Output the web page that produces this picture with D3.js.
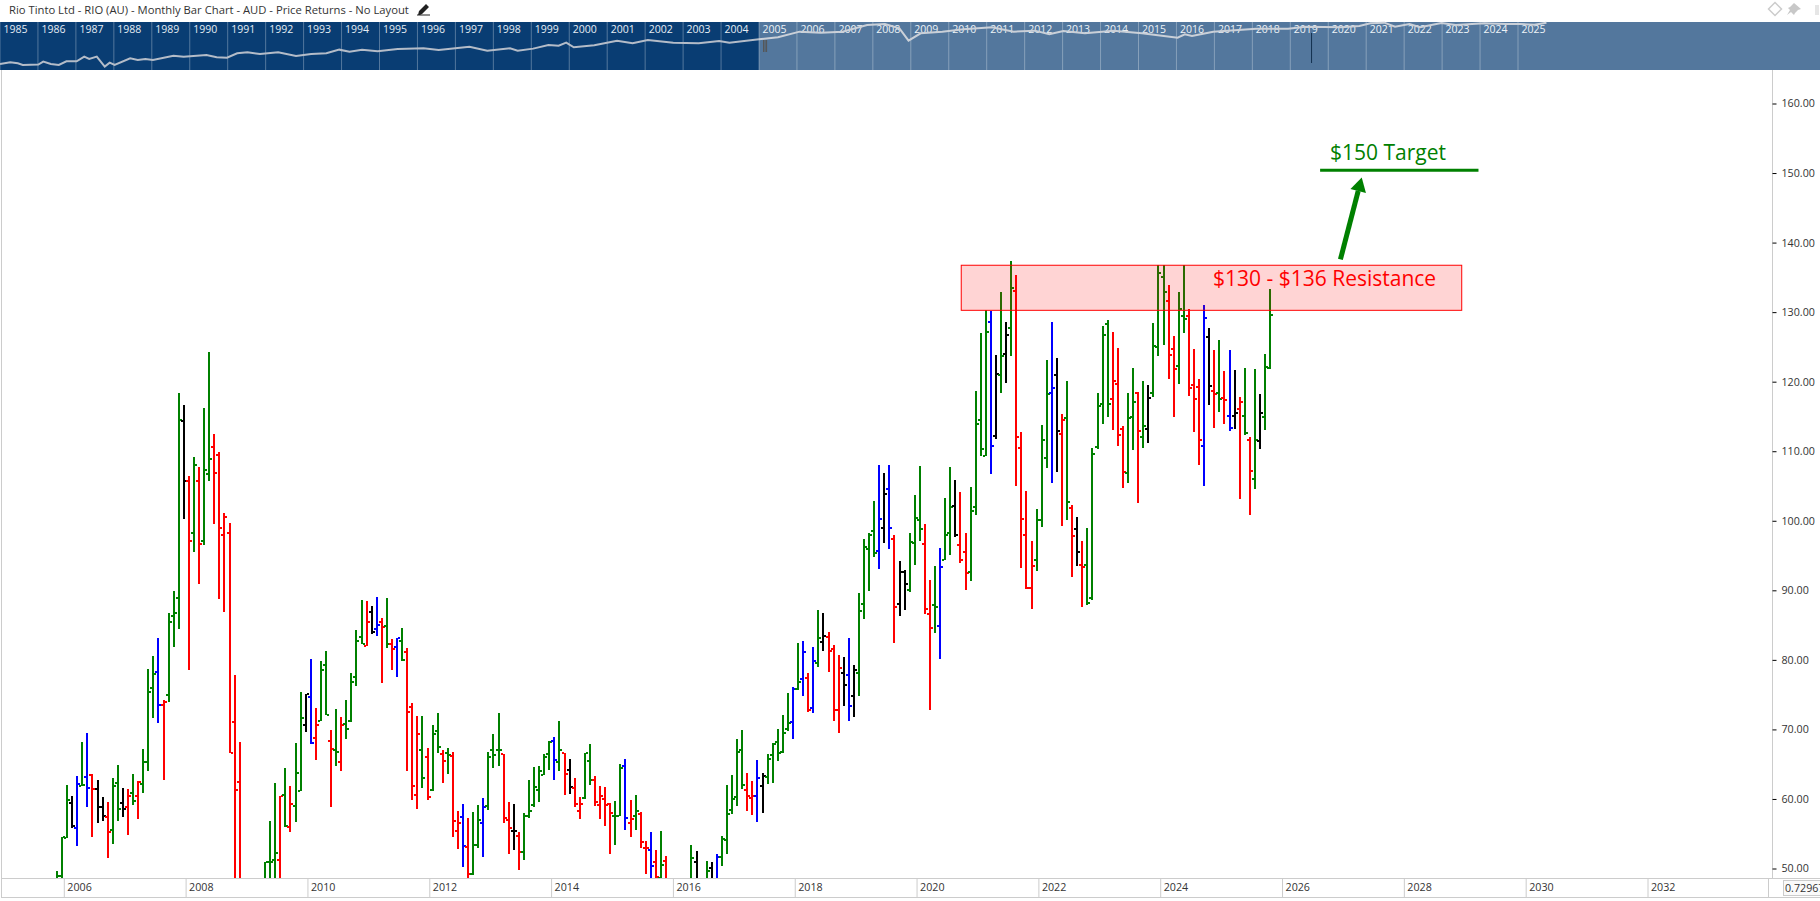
<!DOCTYPE html>
<html>
<head>
<meta charset="utf-8">
<title>Rio Tinto Monthly Bar Chart</title>
<script src="https://cdn.jsdelivr.net/npm/d3@7"></script>
<style>
  html, body { margin: 0; padding: 0; background: #fff; overflow: hidden; }
  text { font-family: "Open Sans", sans-serif; }
  .tick text { fill: #333; font-size: 10.7px; }
</style>
</head>
<body>
<div id="chart"></div>
<script>
const chartTitle = "Rio Tinto Ltd - RIO (AU) - Monthly Bar Chart - AUD - Price Returns - No Layout";

// month bars, first one sits just before the 2006 gridline. null = month is off the bottom of the chart
const highs = [
  49.5,54.4,62.0,60.4,63.3,68.1,69.4,63.5,62.7,60.2,
  59.5,63.0,64.8,61.5,61.3,63.5,62.5,67.1,78.6,80.5,
  83.0,74.2,86.7,89.8,118.3,116.6,106.3,109.1,107.6,116.2,
  124.2,112.4,109.8,101.1,99.6,77.8,68.1,null,null,null,
  null,50.8,56.8,62.2,60.4,64.4,61.8,68.0,75.3,75.0,
  80.0,73.0,79.7,81.2,69.8,72.9,71.7,74.2,78.1,84.2,
  88.5,88.4,87.7,89.0,85.9,88.8,82.9,83.0,84.5,81.7,
  73.7,71.9,71.9,67.3,70.5,72.3,66.9,67.3,66.7,58.2,
  59.2,57.2,58.1,59.1,60.1,66.7,69.3,72.3,66.4,59.5,
  59.2,55.2,57.9,62.7,64.5,64.7,66.4,68.2,68.8,71.2,
  66.6,65.7,63.0,60.2,66.6,67.9,63.3,61.8,61.7,59.4,
  59.7,65.0,65.7,59.8,60.5,58.1,53.9,55.2,52.6,55.3,
  51.7,null,null,null,null,53.3,52.5,null,51.0,50.9,
  52.0,54.6,62.0,63.4,68.5,69.8,63.6,62.5,65.6,63.7,
  66.4,68.0,70.0,72.0,75.2,76.0,82.4,82.6,78.0,81.8,
  87.1,86.7,84.0,82.0,80.6,80.3,83.1,79.2,89.5,97.3,
  98.2,102.8,108.0,106.8,108.0,97.9,94.1,92.8,98.2,103.6,
  107.8,99.4,91.4,93.4,96.0,103.2,107.7,105.8,104.0,98.2,
  104.8,118.6,126.9,130.2,130.1,123.8,132.8,128.5,137.3,135.3,
  112.7,104.2,97.0,101.6,113.7,123.0,128.5,123.3,115.3,120.0,
  102.2,100.5,97.0,98.9,110.4,118.3,128.0,128.8,127.1,124.8,
  113.6,118.3,121.9,118.4,120.0,119.5,128.4,136.7,136.7,133.8,
  126.5,132.8,136.7,130.4,124.6,120.3,130.9,127.7,124.5,125.9,
  121.5,124.5,121.6,117.7,121.9,112.0,121.7,118.1,123.9,133.3
];
const lows = [
  46,46,54.3,55.8,53.1,61.8,58.7,54.5,56.5,56.7,
  51.4,53.5,56.8,57.4,54.7,59.0,57.1,60.8,63.9,71.6,
  70.9,62.6,73.9,81.8,84.4,100.2,78.5,95.5,90.8,96.5,
  105.7,99.4,88.7,86.8,66.6,47,45,null,null,null,
  null,46,46,47,46,55.9,55.2,56.6,61.1,69.6,
  67.9,65.6,71.1,72.0,58.8,64.7,63.9,68.6,71.0,76.2,
  82.2,81.9,83.7,83.3,76.6,81.7,78.5,77.4,79.7,63.9,
  59.8,58.5,61.5,59.8,61.1,66.6,62.2,63.5,54.5,52.8,
  50.2,48.4,49.0,52.9,51.6,58.4,64.4,64.6,56.5,52.0,
  52.6,49.7,51.1,57.2,58.8,59.5,63.4,64.1,62.7,63.9,
  60.5,60.7,58.8,57.1,59.9,62.0,58.9,57.1,56.1,52.0,
  53.3,57.5,55.5,54.5,55.5,52.9,49.1,47,46,47,
  46,null,null,null,null,46,46,null,46,46,
  46,50.3,52.0,57.8,58.9,61.4,58.2,57.6,56.6,57.9,
  62.1,62.2,65.4,66.6,69.7,68.5,75.6,74.7,72.4,72.3,
  78.9,81.2,78.2,71.2,69.4,73.3,71.2,71.7,74.8,85.8,
  89.8,94.7,93.0,96.7,95.8,82.4,86.3,87.1,89.7,93.5,
  97.0,86.5,72.7,83.8,80.0,94.3,95.0,97.6,93.8,90.0,
  91.3,100.8,109.2,109.2,106.7,111.7,118.3,119.7,123.6,104.9,
  93.2,90.1,87.2,92.7,99.0,107.5,105.4,107.0,99.2,100.0,
  91.8,93.4,87.5,87.8,88.5,110.2,113.8,114.8,113.0,110.7,
  104.6,105.4,110.1,102.5,110.4,111.1,117.7,123.6,125.2,120.3,
  114.8,119.6,127.0,117.9,112.7,107.9,105.0,116.6,113.3,115.6,
  113.8,112.8,113.1,103.1,112.3,100.8,104.5,110.2,113.0,121.7
];
const opens = [
  46,48.8,54.3,59.4,55.8,61.8,63.1,63.4,61.4,58.8,
  57.4,55.4,62.2,59.3,58.7,60.8,60.3,62.1,65.3,75.9,
  78.2,73.4,74.9,86.3,88.8,114.3,105.7,98.2,105.7,97.0,
  106.7,110.5,109.4,97.9,98.2,71.0,62.4,null,null,null,
  null,47,50.8,51.2,51.1,60.5,55.9,58.9,61.1,70.6,
  74.6,68.7,71.1,79.2,68.2,67.0,65.2,70.7,71.1,77.4,
  83.2,81.9,86.8,84.4,85.4,84.8,82.2,81.8,82.6,81.0,
  73.2,60.5,67.0,65.9,61.2,69.7,66.4,66.6,66.1,55.3,
  57.4,53.0,49.2,53.3,56.5,58.9,67.0,66.9,66.4,56.9,
  55.3,54.6,52.3,57.5,59.1,61.2,63.4,66.4,68.3,65.3,
  66.6,64.1,61.5,58.2,60.1,65.4,62.7,59.1,59.9,59.2,
  57.5,57.5,64.6,56.5,57.5,57.8,52.9,52.6,50.9,48.5,
  51.0,null,null,null,null,47,50.9,null,47,50.0,
  47.5,51.6,54.0,58.4,60.2,67.0,61.2,60.1,60.4,61.8,
  63.1,66.3,68.1,66.7,70.0,71.0,75.7,77.2,77.3,73.0,
  79.5,82.5,83.2,81.5,72.7,78.0,77.8,74.8,78.0,88.0,
  95.8,98.5,95.6,98.9,104.5,97.3,88.0,92.5,90.0,96.7,
  100.0,96.6,86.5,87.8,84.8,94.3,98.2,102.0,96.4,95.4,
  92.5,101.9,114.4,109.3,128.5,112.1,120.9,123.9,127.7,132.9,
  110.4,97.9,90.2,94.3,100.0,108.9,118.3,120.9,112.4,114.7,
  101.8,98.7,93.5,93.5,88.8,110.5,116.7,128.2,117.4,119.6,
  113.1,106.8,114.8,118.3,112.0,113.1,118.3,124.9,135.0,131.5,
  124.6,122.2,129.4,129.4,119.4,119.1,110.7,126.4,118.6,118.3,
  117.6,115.0,115.0,116.0,115.0,111.5,105.9,111.4,114.8,121.9
];
const closes = [
  48.8,54.4,59.8,56.0,62.1,62.0,61.5,61.4,58.8,57.5,
  55.2,61.8,58.5,58.5,60.4,59.7,62.3,65.2,75.3,77.9,
  73.4,73.8,85.4,86.7,114.4,105.7,97.0,108.0,96.6,107.2,
  108.8,106.8,98.9,100.5,66.6,61.2,47,null,null,null,
  null,50.8,50.9,52.2,60.4,56.1,59.2,63.7,71.6,75.0,
  68.0,70.5,78.4,72.0,67.1,66.7,70.6,70.0,76.8,82.6,
  82.2,85.4,83.9,85.0,84.7,82.2,81.5,83.0,79.9,72.4,
  61.8,69.2,63.0,60.2,69.2,67.4,65.4,66.3,56.8,56.5,
  53.2,49.2,53.3,56.9,58.8,66.0,66.3,67.0,57.2,55.8,
  55.3,52.3,57.5,58.2,61.6,63.9,66.0,68.1,65.6,66.9,
  63.5,61.7,59.2,59.2,66.6,62.7,59.5,60.4,59.1,57.9,
  57.5,64.4,57.2,57.1,58.2,53.8,52.9,50.3,48.7,50.5,
  47.5,null,null,null,null,51.4,47.5,null,49.6,47.5,
  51.6,54.2,57.8,59.9,66.7,62.0,60.4,60.4,62.9,63.3,
  65.7,67.8,66.6,69.4,70.9,75.7,76.7,81.0,72.7,79.8,
  83.0,83.4,81.2,72.7,78.7,76.3,73.3,78.5,86.9,96.1,
  97.9,95.3,100.2,103.8,98.9,87.5,92.5,90.8,96.9,100.3,
  98.7,87.2,84.5,87.5,93.3,97.9,101.9,97.9,94.3,92.4,
  101.3,113.8,110.2,127.1,110.7,121.0,123.6,126.6,133.4,112.0,
  100.2,90.2,93.4,100.0,111.5,118.2,119.0,112.8,114.4,102.6,
  97.7,95.4,93.3,88.1,109.5,116.4,126.6,116.7,120.0,112.3,
  106.9,114.7,117.0,112.8,113.5,117.6,125.1,135.6,132.8,123.8,
  121.7,130.4,129.0,119.0,117.5,111.5,129.1,119.3,118.2,117.5,
  117.3,113.3,115.4,117.0,112.5,107.1,111.6,115.4,122.0,129.5
];
const barKinds = (
  "gggkbgbrkk" + "rggkrgrggg" + "brgggkrgrg" + "grrrrrr---" +
  "-gggrgrggk" + "brggrgrggg" + "grkbrgrbgr" + "rrgrggrgrr" +
  "brggbgggrr" + "krggggggbg" + "rkrrggrrrr" + "ggbrgrrbrg" +
  "r----gk-gk" + "bgggggrrbk" + "gggggbgbrb" + "gkrrrkbkgg" +
  "ggbkbrkkgg" + "grrgbggkrr" + "ggggbkgkgr" + "rrrgggbkrg" +
  "rkrgggggrr" + "rggrgkgggr" + "rggrrrbkrg" + "rbkrgrgkgg"
).split("");

const priceTicks = [50, 60, 70, 80, 90, 100, 110, 120, 130, 140, 150, 160];
const axisYears = [2006, 2008, 2010, 2012, 2014, 2016, 2018, 2020, 2022, 2024, 2026, 2028, 2030, 2032];

const navYears = d3.range(1985, 2026);
const navLineYears = [
  1985.00,1985.27,1985.47,1985.60,1986.01,1986.14,1986.34,1986.55,1986.75,1987.02,
  1987.22,1987.35,1987.55,1987.76,1987.89,1988.02,1988.43,1988.63,1988.83,1989.03,
  1989.57,1989.84,1990.44,1990.71,1990.98,1991.25,1991.52,1991.85,1992.33,1992.80,
  1993.20,1993.60,1993.94,1994.21,1994.54,1994.95,1995.48,1996.16,1996.56,1997.37,
  1997.84,1998.44,1998.64,1999.05,1999.45,1999.72,1999.92,2000.12,2000.66,2001.26,
  2001.67,2002.07,2002.74,2003.41,2003.95,2004.22,2005.00,2005.50,2006.07,2006.63,
  2007.20,2007.85,2008.32,2008.70,2008.94,2009.26,2009.83,2010.39,2011.14,2011.71,
  2012.27,2012.65,2013.02,2013.59,2014.34,2015.09,2016.03,2016.22,2016.41,2016.97,
  2018.10,2018.94,2019.41,2020.35,2020.82,2021.11,2021.48,2021.76,2022.14,2022.42,
  2022.98,2023.36,2024.11,2024.68,2025.05,2025.43,2025.75
];
const navLineLevels = [
  12.6,16.0,13.9,10.5,11.2,17.4,12.6,10.5,18.1,18.1,
  27.8,23.0,27.8,7.0,15.3,10.5,24.3,20.9,23.0,20.9,
  29.9,27.8,31.3,26.4,25.7,34.8,36.8,33.4,36.8,29.2,
  33.4,34.8,42.4,38.2,42.4,38.9,43.8,45.2,41.7,48.6,
  40.3,45.2,40.3,44.5,52.1,50.7,57.0,47.2,51.4,61.1,
  55.6,62.5,57.0,55.6,60.4,57.0,63.9,68.1,79.9,77.8,
  79.9,93.7,95.8,86.8,61.1,76.4,79.9,84.7,88.9,79.9,
  82.0,74.3,81.3,76.4,82.0,76.4,67.4,74.3,70.8,79.9,
  86.1,86.1,90.3,88.9,91.7,97.2,98.6,90.3,95.8,88.9,
  97.9,93.7,97.2,95.8,95.8,94.4,98.6
];
const navWindowStart = 2005;

const resistanceBand = [130.19, 136.67];
const resistanceMonths = [176.9, 275.5];
const targetPrice = 150.32;
const targetMonths = [247.6, 278.8];
const arrowMonths = [251.6, 255.8];
const arrowPrices = [137.5, 149.3];

function drawChart() {
  const width = 1820, height = 901;
  const barColors = { g: "#008000", r: "#ff0000", b: "#0000ff", k: "#000000" };

  const svg = d3.select("#chart").append("svg")
    .attr("width", width)
    .attr("height", height)
    .style("display", "block");

  // months since Jan 2006 -> px
  const x = d3.scaleLinear().domain([0, 312]).range([63.3, 1647]);
  const y = d3.scaleLinear().domain([50, 160]).range([868, 103]);
  const navX = d3.scaleLinear().domain([1985, 2005]).range([0, 759]);
  const navY = d3.scaleLinear().domain([0, 100]).range([70, 22]);
  const firstBarMonth = -1.25;

  // title row
  svg.append("text")
    .attr("x", 9).attr("y", 14)
    .attr("font-size", 11.25)
    .attr("fill", "#333")
    .text(chartTitle);

  svg.append("path")
    .attr("d", "M417 14.5h13v1h-13z M419 11l7-7 3 3-7 7-4 1z")
    .attr("fill", "#222");

  // top right icons
  svg.append("path")
    .attr("d", "M1775 2.5l6.5 6.5-6.5 6.5-6.5-6.5z")
    .attr("fill", "none").attr("stroke", "#ccc").attr("stroke-width", 1.5);
  svg.append("path")
    .attr("d", "M1794 3l7 6-3 1-3 3-1 2-3-3-4 3 3-5-2-2 2-1 3-3z")
    .attr("fill", "#c8c8c8");
  svg.append("rect").attr("x", 1815).attr("y", 5).attr("width", 4).attr("height", 10).attr("fill", "#e6e6e6");

  // overview strip
  const nav = svg.append("g");
  nav.append("rect")
    .attr("x", 0).attr("y", navY(100))
    .attr("width", width).attr("height", navY(0) - navY(100))
    .attr("fill", "#093d73");

  nav.selectAll("line.year")
    .data(navYears)
    .enter().append("line")
    .attr("class", "year")
    .attr("x1", d => navX(d)).attr("x2", d => navX(d))
    .attr("y1", navY(100)).attr("y2", navY(0))
    .attr("stroke", "#fff").attr("stroke-opacity", 0.3);

  nav.selectAll("text")
    .data(navYears)
    .enter().append("text")
    .attr("x", d => navX(d) + 3.5)
    .attr("y", 33)
    .attr("font-size", 10.5)
    .attr("fill", "#e6edf3")
    .text(d => d);

  nav.append("path")
    .attr("d", d3.line().x(d => navX(d)).y((d, i) => navY(navLineLevels[i]))(navLineYears))
    .attr("fill", "none")
    .attr("stroke", "#b4bcc8")
    .attr("stroke-width", 2);

  // the window that is on screen is washed out
  nav.append("rect")
    .attr("x", navX(navWindowStart)).attr("y", navY(100))
    .attr("width", width - navX(navWindowStart)).attr("height", navY(0) - navY(100))
    .attr("fill", "#fff").attr("fill-opacity", 0.3);

  // small marks on the strip
  nav.selectAll("line.mark")
    .data([2005.12, 2005.16, 2005.2])
    .enter().append("line")
    .attr("class", "mark")
    .attr("x1", d => navX(d)).attr("x2", d => navX(d))
    .attr("y1", 40).attr("y2", 52)
    .attr("stroke", "#555");
  nav.append("line")
    .attr("x1", navX(2019.56)).attr("x2", navX(2019.56))
    .attr("y1", 33).attr("y2", 63)
    .attr("stroke", "#12304f");

  // frame
  svg.append("line").attr("x1", 1.5).attr("x2", 1.5).attr("y1", 70).attr("y2", 897).attr("stroke", "#ccc");
  svg.append("line").attr("x1", 1772.5).attr("x2", 1772.5).attr("y1", 70).attr("y2", 878).attr("stroke", "#ccc");
  svg.append("line").attr("x1", 1).attr("x2", width).attr("y1", 878.5).attr("y2", 878.5).attr("stroke", "#ccc");
  svg.append("line").attr("x1", 1).attr("x2", width).attr("y1", 897.5).attr("y2", 897.5).attr("stroke", "#ccc");
  svg.append("line").attr("x1", 1768.5).attr("x2", 1768.5).attr("y1", 878).attr("y2", 897).attr("stroke", "#ccc");

  // price axis
  const yAxis = svg.append("g")
    .attr("transform", "translate(1772.5,0.5)")
    .call(d3.axisRight(y).tickValues(priceTicks).tickFormat(d3.format(".2f")).tickSize(4).tickPadding(5));
  yAxis.select(".domain").remove();
  yAxis.selectAll(".tick line").attr("stroke", "#000");

  // date axis
  const xAxis = svg.append("g")
    .attr("transform", "translate(0.5,878)")
    .call(d3.axisBottom(x)
      .tickValues(axisYears.map(d => (d - 2006) * 12))
      .tickFormat(d => 2006 + d / 12)
      .tickSize(19));
  xAxis.select(".domain").remove();
  xAxis.selectAll(".tick line").attr("stroke", "#ccc");
  xAxis.selectAll(".tick text")
    .attr("text-anchor", "start")
    .attr("x", 3)
    .attr("y", 5)
    .attr("dy", "0.71em");

  // scale readout, cut off by the window edge as in the source
  svg.append("rect")
    .attr("x", 1783.5).attr("y", 880.5)
    .attr("width", 40).attr("height", 15)
    .attr("fill", "#fafafa").attr("stroke", "#ccc");
  svg.append("text")
    .attr("x", 1785).attr("y", 892)
    .attr("font-size", 10.7)
    .attr("fill", "#333")
    .text("0.72967");

  // bars
  svg.append("clipPath").attr("id", "plot-clip")
    .append("rect").attr("x", 2).attr("y", 70).attr("width", 1770).attr("height", 808);

  const bars = barKinds
    .map((kind, i) => ({ kind, i, high: highs[i], low: lows[i], open: opens[i], close: closes[i] }))
    .filter(d => d.high !== null);

  const bar = svg.append("g")
    .attr("clip-path", "url(#plot-clip)")
    .attr("shape-rendering", "crispEdges")
    .selectAll("g")
    .data(bars)
    .enter().append("g")
    .attr("fill", d => barColors[d.kind]);

  const barX = d => Math.round(x(firstBarMonth + d.i));

  bar.append("rect")
    .attr("x", d => barX(d) - 1).attr("width", 2)
    .attr("y", d => Math.round(y(d.high)))
    .attr("height", d => Math.round(y(d.low)) - Math.round(y(d.high)));
  bar.append("rect")
    .attr("x", d => barX(d) - 3).attr("width", 2)
    .attr("y", d => Math.round(y(d.open)) - 1)
    .attr("height", 2);
  bar.append("rect")
    .attr("x", d => barX(d) + 1).attr("width", 2)
    .attr("y", d => Math.round(y(d.close)) - 1)
    .attr("height", 2);

  // annotations
  svg.append("rect")
    .attr("x", x(resistanceMonths[0])).attr("y", y(resistanceBand[1]))
    .attr("width", x(resistanceMonths[1]) - x(resistanceMonths[0]))
    .attr("height", y(resistanceBand[0]) - y(resistanceBand[1]))
    .attr("fill", "#ff0000").attr("fill-opacity", 0.17)
    .attr("stroke", "#ff0000").attr("stroke-width", 1);

  svg.append("text")
    .attr("x", 1213).attr("y", y(resistanceBand[1]) + 21)
    .attr("font-size", 21)
    .attr("fill", "#ff0000")
    .text("$130 - $136 Resistance");

  svg.append("line")
    .attr("x1", x(targetMonths[0])).attr("x2", x(targetMonths[1]))
    .attr("y1", y(targetPrice)).attr("y2", y(targetPrice))
    .attr("stroke", "#008000").attr("stroke-width", 3);

  svg.append("text")
    .attr("x", 1330).attr("y", y(targetPrice) - 10)
    .attr("font-size", 21)
    .attr("fill", "#008000")
    .text("$150 Target");

  const ax0 = x(arrowMonths[0]), ay0 = y(arrowPrices[0]);
  const ax1 = x(arrowMonths[1]), ay1 = y(arrowPrices[1]);
  const len = Math.hypot(ax1 - ax0, ay1 - ay0);
  const ux = (ax1 - ax0) / len, uy = (ay1 - ay0) / len;
  const headLen = 14, headHalf = 8;
  const bx = ax1 - ux * headLen, by = ay1 - uy * headLen;

  svg.append("line")
    .attr("x1", ax0).attr("y1", ay0).attr("x2", bx).attr("y2", by)
    .attr("stroke", "#008000").attr("stroke-width", 5);
  svg.append("polygon")
    .attr("points", [
      [ax1, ay1],
      [bx - uy * headHalf, by + ux * headHalf],
      [bx + uy * headHalf, by - ux * headHalf]
    ].join(" "))
    .attr("fill", "#008000");
}

drawChart();
</script>
</body>
</html>
